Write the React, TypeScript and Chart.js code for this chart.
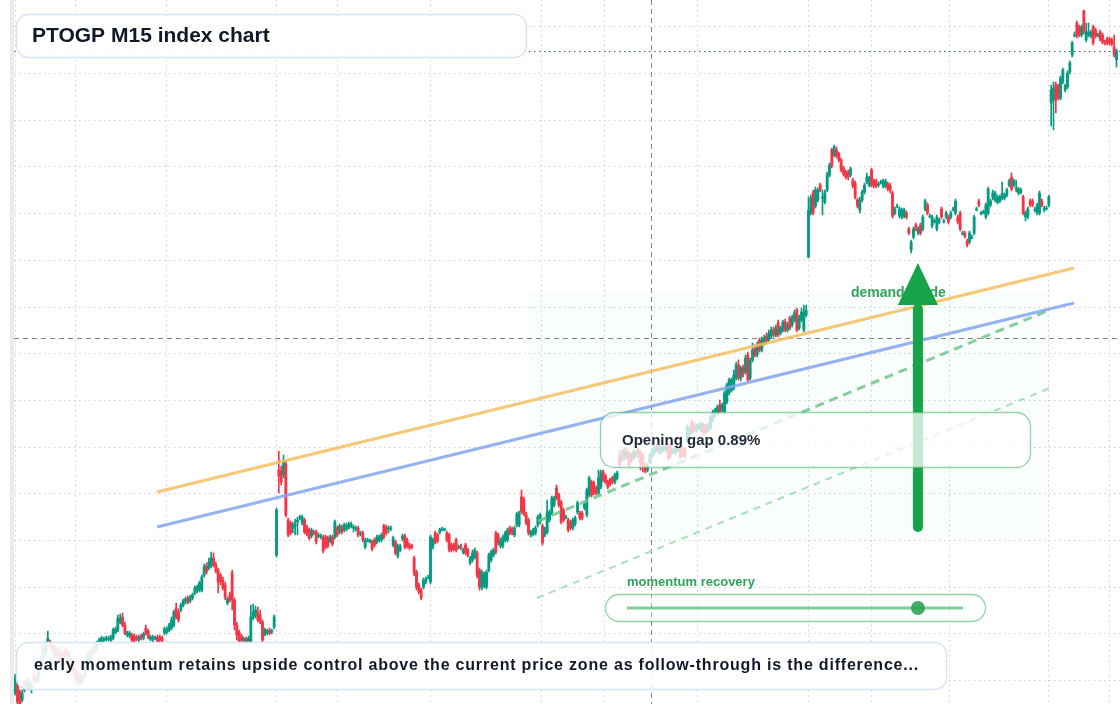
import React, { useEffect, useRef } from "react";
import { Chart, registerables } from "chart.js";

Chart.register(...registerables);

// ---- OHLC data (one value per 15-minute candle, index order) ----
const opens = [
  307,315,308,300,310,317,312,311,324,322,
  320,332,342,348,357,358,355,352,344,350,
  345,348,350,342,340,334,328,326,318,324,
  325,335,340,350,348,352,357,358,360,360,
  361,360,362,367,370,378,383,375,365,364,
  365,364,363,360,364,362,372,369,361,360,
  362,363,363,362,367,368,370,372,375,392,
  388,390,395,398,402,399,402,407,409,410,
  410,425,434,432,434,442,435,430,425,420,
  415,397,405,427,400,375,368,364,359,361,
  358,358,382,384,387,385,378,366,367,370,
  368,373,445,530,529,525,536,480,477,472,
  474,478,482,477,480,473,470,464,468,468,
  464,463,463,463,462,459,463,463,472,468,
  473,470,471,473,474,472,471,472,466,467,
  453,459,458,458,460,458,460,460,474,473,
  471,471,455,458,444,450,461,464,460,455,
  454,442,428,415,410,413,418,422,418,453,
  467,465,468,470,470,467,465,455,455,460,
  452,454,448,455,450,437,440,443,447,430,
  412,415,413,430,440,445,467,465,454,454,
  460,460,472,471,465,475,475,503,500,486,
  480,465,466,467,475,478,474,465,468,480,
  487,495,512,505,498,490,482,480,478,472,
  476,488,487,487,492,485,505,518,517,512,
  507,513,528,524,518,520,522,518,522,543,
  540,550,543,547,545,542,545,550,548,544,
  535,530,538,544,548,550,553,548,551,550,
  555,553,548,547,550,553,552,550,560,565,
  578,575,570,572,570,575,574,570,572,580,
  585,587,595,590,588,598,607,610,612,622,
  635,622,632,628,645,622,640,652,645,660,
  650,657,664,660,664,670,665,677,667,670,
  678,670,682,675,680,690,672,680,670,685,
  743,787,807,794,800,815,802,798,810,825,
  850,845,850,846,840,832,828,828,825,820,
  817,800,790,800,808,818,815,830,819,819,
  815,817,814,814,816,815,807,787,793,784,
  783,784,787,771,750,763,775,767,775,771,
  791,795,783,774,778,771,778,791,778,783,
  783,783,790,787,783,787,766,767,759,758,
  762,767,790,799,786,787,783,787,795,802,
  800,798,799,802,802,805,815,823,815,811,
  807,808,803,783,783,799,799,790,787,787,
  799,790,791,795,897,900,915,914,902,918,
  910,913,928,945,964,977,973,965,989,960,
  965,964,973,970,964,968,965,958,961,961,
  960,953,940,
];

const highs = [
  326,317,310,310,320,321,322,318,328,326,
  332,344,355,358,369,360,357,355,353,352,
  348,351,352,349,343,337,331,328,327,326,
  335,347,350,353,357,359,362,364,363,364,
  364,365,372,373,385,386,387,378,369,369,
  367,366,365,365,366,368,375,371,365,365,
  364,365,365,364,373,373,377,383,390,397,
  391,397,401,403,404,405,407,414,415,419,
  425,436,437,442,448,447,438,432,427,423,
  418,403,408,430,402,378,370,366,363,363,
  364,395,396,394,393,390,380,372,371,372,
  371,385,492,549,534,545,539,482,479,478,
  481,483,485,485,482,475,472,472,470,470,
  467,466,465,465,464,465,465,480,474,476,
  475,477,477,478,478,475,474,474,469,469,
  462,462,461,460,462,465,465,467,476,475,
  474,474,464,460,456,456,466,466,462,457,
  456,444,430,417,412,422,423,425,465,462,
  469,467,472,473,472,469,467,457,457,462,
  455,456,452,457,452,444,450,452,449,432,
  430,428,430,447,450,452,469,467,462,465,
  469,472,474,473,474,488,489,510,503,488,
  482,470,472,474,485,487,476,473,500,490,
  504,504,515,507,500,492,485,482,480,482,
  484,499,489,489,498,512,524,520,519,514,
  530,530,530,526,520,522,524,527,529,550,
  550,552,552,549,547,550,550,552,550,546,
  537,536,547,552,554,555,555,554,555,555,
  557,555,552,553,554,555,554,552,575,574,
  580,577,576,577,578,577,576,577,585,590,
  592,595,600,597,609,617,622,622,630,638,
  640,634,635,645,648,642,657,655,658,662,
  663,665,667,670,673,673,675,680,674,680,
  681,678,684,685,690,692,685,692,695,695,
  803,805,810,813,812,817,810,810,828,837,
  852,855,853,848,842,834,830,830,833,822,
  819,802,803,810,817,827,824,832,821,821,
  818,820,821,821,818,817,809,793,796,793,
  792,792,789,773,760,773,777,773,777,785,
  801,797,786,785,781,785,782,793,781,789,
  785,789,793,801,785,789,769,769,761,769,
  765,785,793,801,789,790,797,813,801,810,
  809,805,805,818,807,812,821,827,821,820,
  813,812,805,789,793,801,801,793,797,809,
  801,794,794,805,915,918,918,916,924,932,
  916,929,939,959,968,979,975,975,990,977,
  977,970,975,972,967,970,967,960,963,963,
  962,965,951,
];

const lows = [
  305,294,292,298,308,310,310,307,317,317,
  318,330,340,345,355,352,348,342,341,339,
  337,341,340,339,330,325,319,314,315,317,
  322,332,337,345,346,350,355,356,358,359,
  359,358,360,366,368,376,373,365,363,362,
  358,356,359,358,360,360,365,361,359,358,
  360,356,358,357,365,366,368,370,373,381,
  378,388,393,396,396,397,400,405,407,408,
  408,423,426,430,432,433,427,407,415,410,
  400,395,398,390,370,360,355,357,357,355,
  356,356,380,382,378,376,358,364,365,365,
  366,371,443,507,515,522,483,463,465,467,
  465,465,480,475,466,464,460,462,465,456,
  462,461,447,451,452,457,454,461,463,466,
  466,468,469,471,472,468,469,463,464,458,
  451,458,457,449,453,456,458,458,461,465,
  467,469,453,445,442,448,459,451,452,450,
  451,424,410,406,400,411,416,421,416,451,
  456,457,466,469,469,458,448,448,449,448,
  451,450,446,445,443,435,438,441,422,410,
  410,412,411,428,438,443,446,455,452,452,
  458,458,465,465,463,473,473,486,484,475,
  465,463,464,465,473,476,455,463,466,478,
  485,493,500,493,476,478,481,468,470,470,
  474,486,480,480,490,483,503,503,505,505,
  505,511,518,516,511,514,516,516,520,533,
  538,540,541,533,537,540,543,542,530,528,
  527,528,536,542,546,548,546,546,549,548,
  540,543,546,545,548,541,543,542,558,563,
  566,568,568,570,568,565,566,568,570,578,
  583,585,586,588,586,596,605,608,610,620,
  620,619,623,626,618,620,638,643,643,648,
  648,655,656,658,662,663,663,663,665,668,
  668,668,670,673,678,668,670,678,668,683,
  742,785,785,792,798,808,785,796,808,823,
  832,843,842,838,828,824,821,820,823,812,
  801,792,787,798,806,816,813,813,812,812,
  813,816,812,812,809,807,782,785,792,782,
  781,782,781,765,747,761,769,765,765,769,
  789,785,782,772,777,769,776,781,777,781,
  776,781,789,785,776,769,765,762,753,756,
  761,765,789,793,785,786,781,785,793,800,
  798,796,797,800,800,803,813,809,813,808,
  805,806,785,779,781,793,793,788,785,785,
  793,788,790,793,874,870,887,900,900,916,
  908,911,926,943,963,962,963,963,966,958,
  963,962,955,962,963,959,956,955,955,955,
  954,943,933,
];

const closes = [
  323,298,296,307,317,312,318,314,320,320,
  328,340,352,355,362,355,350,345,350,342,
  340,344,343,346,334,328,322,317,324,320,
  332,344,347,347,354,356,360,362,361,362,
  362,363,370,371,382,381,375,367,367,367,
  360,358,361,363,362,366,367,363,363,363,
  362,358,360,359,371,371,375,380,388,383,
  380,395,399,401,398,403,405,412,413,417,
  423,433,428,438,442,435,429,418,418,412,
  403,401,400,400,375,365,358,360,361,357,
  362,383,388,390,380,378,360,370,369,367,
  369,383,490,524,518,538,485,465,467,475,
  476,480,483,483,468,466,462,470,467,458,
  465,464,449,453,454,463,456,478,465,474,
  468,475,475,476,476,473,472,465,467,460,
  460,460,460,451,455,463,463,465,463,467,
  472,472,462,447,454,454,464,453,454,452,
  453,427,413,408,402,420,421,423,463,460,
  458,459,470,471,471,460,450,450,451,450,
  453,452,450,447,445,442,447,450,425,413,
  428,425,428,445,448,450,448,457,460,463,
  467,470,467,467,472,486,487,488,486,477,
  467,468,470,472,483,485,457,471,488,488,
  502,502,502,495,478,480,483,470,472,480,
  482,497,482,482,496,510,522,505,507,507,
  522,528,520,518,513,516,518,525,527,535,
  545,543,548,535,539,548,548,544,537,535,
  529,534,545,550,552,553,548,552,553,553,
  542,545,550,551,552,543,545,544,573,572,
  568,570,574,575,576,567,568,575,583,588,
  590,593,588,595,607,615,620,620,625,635,
  622,632,626,642,620,640,650,645,655,650,
  660,662,658,667,670,665,672,665,672,678,
  670,675,672,682,687,670,682,688,688,690,
  790,802,787,810,810,810,803,807,825,835,
  834,853,844,840,830,826,823,823,831,814,
  803,794,800,808,815,823,822,815,814,814,
  816,818,819,819,811,810,784,791,794,791,
  790,790,783,767,758,771,771,771,767,783,
  799,787,784,783,779,783,780,783,779,787,
  778,787,791,799,778,771,767,764,755,767,
  763,783,791,795,787,788,795,811,799,807,
  807,803,803,807,805,810,819,811,819,812,
  811,810,787,787,791,795,795,791,795,807,
  795,791,792,803,910,912,900,902,922,930,
  914,927,937,957,965,965,965,973,968,968,
  968,968,957,964,965,961,958,957,957,957,
  956,945,949,
];

// ---- axis tick positions (grid only, labels hidden) ----
const xGridTicks = [0, 26, 65, 112, 138, 178, 225.5, 252.5, 292.5, 340, 367, 400.5, 443, 469];
const yGridTicks = [973, 926.33, 879.67, 833, 786.33, 739.67, 693, 646.33, 599.67, 553, 506.33, 459.67, 413, 366.33, 319.67];

const X_MIN = -0.5;
const X_MAX = 473.5;
const Y_MIN = 296;
const Y_MAX = 1000;

// ---- annotation values (data units) ----
const resistanceLine = [{ x: 60.8, y: 508 }, { x: 453.8, y: 732 }];
const trendLine = [{ x: 60.8, y: 473 }, { x: 453.8, y: 697 }];
const momentumLine = [{ x: 224.1, y: 479 }, { x: 442.2, y: 689 }];
const supportLine = [{ x: 223.6, y: 402 }, { x: 443.5, y: 612 }];
const zoneX = [219.4, 443.5];
const zoneY = [460, 708];
const crossX = 272.5;
const crossY = 662;
const arrowX = 386.9;
const arrowFrom = 473;
const arrowHeadBase = 695;
const arrowTip = 737;
const momentumValue = 0.866;

const TITLE = "PTOGP M15 index chart";
const NOTE = "early momentum retains upside control above the current price zone as follow-through is the difference...";
const GAP_LABEL = "Opening gap 0.89%";
const MOMENTUM_LABEL = "momentum recovery";
const DEMAND_LABEL = "demand guide";

const UP = "#089981";
const DOWN = "#f23645";
const FONT = '"Liberation Sans", Arial, Helvetica, sans-serif';

const overlayPlugin = {
  id: "overlay",
  beforeDraw(chart: any) {
    const ctx = chart.ctx;
    ctx.save();
    ctx.fillStyle = "#ffffff";
    ctx.fillRect(0, 0, chart.width, chart.height);
    ctx.fillStyle = "#ebebeb";
    ctx.fillRect(10, 0, 4, chart.height);
    ctx.restore();
  },
  beforeDatasetsDraw(chart: any) {
    const { ctx, chartArea } = chart;
    const xs = chart.scales.x;
    const ys = chart.scales.y;
    ctx.save();
    const zx0 = xs.getPixelForValue(zoneX[0]);
    const zx1 = xs.getPixelForValue(zoneX[1]);
    const zy0 = ys.getPixelForValue(zoneY[1]);
    const zy1 = ys.getPixelForValue(zoneY[0]);
    ctx.fillStyle = "rgba(34,197,94,0.028)";
    ctx.fillRect(zx0, zy0, zx1 - zx0, zy1 - zy0);

    ctx.strokeStyle = "rgba(110,110,110,0.85)";
    ctx.lineWidth = 1;
    ctx.setLineDash([5, 4]);
    const cx = Math.round(xs.getPixelForValue(crossX)) + 0.5;
    ctx.beginPath();
    ctx.moveTo(cx, chartArea.top);
    ctx.lineTo(cx, chartArea.bottom);
    ctx.stroke();
    const cy = Math.round(ys.getPixelForValue(crossY)) + 0.5;
    ctx.beginPath();
    ctx.moveTo(chartArea.left, cy);
    ctx.lineTo(chartArea.right, cy);
    ctx.stroke();

    const ly = Math.round(ys.getPixelForValue(closes[closes.length - 1])) + 0.5;
    ctx.strokeStyle = "#2f6f62";
    ctx.lineWidth = 1.2;
    ctx.setLineDash([1.5, 3.5]);
    ctx.beginPath();
    ctx.moveTo(chartArea.left, ly);
    ctx.lineTo(chartArea.right, ly);
    ctx.stroke();
    ctx.restore();
  },
  afterDatasetsDraw(chart: any) {
    const { ctx } = chart;
    const xs = chart.scales.x;
    const ys = chart.scales.y;
    ctx.save();
    ctx.textBaseline = "middle";
    ctx.textAlign = "left";

    // demand label (under the arrow)
    ctx.font = `bold 14px ${FONT}`;
    ctx.fillStyle = "#2ea55a";
    ctx.fillText(DEMAND_LABEL, 851, 293);

    // arrow
    const ax = xs.getPixelForValue(arrowX);
    const yFrom = ys.getPixelForValue(arrowFrom);
    const yBase = ys.getPixelForValue(arrowHeadBase);
    const yTip = ys.getPixelForValue(arrowTip);
    ctx.strokeStyle = "#16a34a";
    ctx.fillStyle = "#16a34a";
    ctx.lineWidth = 10;
    ctx.lineCap = "round";
    ctx.setLineDash([]);
    ctx.beginPath();
    ctx.moveTo(ax, yFrom);
    ctx.lineTo(ax, yBase + 4);
    ctx.stroke();
    ctx.lineCap = "butt";
    ctx.beginPath();
    ctx.moveTo(ax, yTip);
    ctx.lineTo(ax + 20, yBase);
    ctx.lineTo(ax - 20, yBase);
    ctx.closePath();
    ctx.fill();

    // opening gap box
    ctx.beginPath();
    ctx.roundRect(600.5, 412.5, 430, 55, 14);
    ctx.fillStyle = "rgba(255,255,255,0.75)";
    ctx.fill();
    ctx.strokeStyle = "rgba(60,175,100,0.55)";
    ctx.lineWidth = 1.3;
    ctx.stroke();
    ctx.font = `bold 15px ${FONT}`;
    ctx.fillStyle = "#1f2937";
    ctx.fillText(GAP_LABEL, 622, 441);

    // momentum slider
    ctx.font = `bold 13px ${FONT}`;
    ctx.fillStyle = "#2ea55a";
    ctx.fillText(MOMENTUM_LABEL, 627, 582);
    ctx.beginPath();
    ctx.roundRect(605.5, 594.5, 380, 27, 13.5);
    ctx.fillStyle = "rgba(255,255,255,0.35)";
    ctx.fill();
    ctx.strokeStyle = "rgba(60,175,100,0.55)";
    ctx.lineWidth = 1.3;
    ctx.stroke();
    const t0 = 627, t1 = 963;
    ctx.strokeStyle = "rgba(60,180,100,0.65)";
    ctx.lineWidth = 3;
    ctx.beginPath();
    ctx.moveTo(t0, 608);
    ctx.lineTo(t1, 608);
    ctx.stroke();
    ctx.fillStyle = "rgba(34,160,80,0.85)";
    ctx.beginPath();
    ctx.arc(t0 + (t1 - t0) * momentumValue, 608, 7, 0, Math.PI * 2);
    ctx.fill();

    // title box
    ctx.beginPath();
    ctx.roundRect(16.5, 14.5, 510, 43, 12);
    ctx.fillStyle = "rgba(255,255,255,0.92)";
    ctx.fill();
    ctx.strokeStyle = "#d6e4f6";
    ctx.lineWidth = 1.5;
    ctx.stroke();
    ctx.font = `bold 21px ${FONT}`;
    ctx.fillStyle = "#111827";
    ctx.fillText(TITLE, 32, 36);

    // bottom note box
    ctx.beginPath();
    ctx.roundRect(16.5, 642.5, 930, 47, 12);
    ctx.fillStyle = "rgba(255,255,255,0.88)";
    ctx.fill();
    ctx.strokeStyle = "#d6e4f6";
    ctx.lineWidth = 1.5;
    ctx.stroke();
    ctx.font = `bold 16px ${FONT}`;
    (ctx as any).letterSpacing = "0.8px";
    ctx.fillStyle = "#111827";
    ctx.fillText(NOTE, 34, 666);
    (ctx as any).letterSpacing = "0px";
    ctx.restore();
  },
};

export default function App() {
  const ref = useRef<HTMLCanvasElement | null>(null);

  useEffect(() => {
    if (!ref.current) return;
    const n = Math.min(opens.length, highs.length, lows.length, closes.length);
    const idx = Array.from({ length: n }, (_, i) => i);
    const colors = idx.map((i) => (closes[i] >= opens[i] ? UP : DOWN));
    const wickData = idx.map((i) => ({ x: i, y: [lows[i], highs[i]] }));
    const bodyData = idx.map((i) => ({ x: i, y: [opens[i], closes[i]] }));

    const lineDs = (data: any, color: string, width: number, dash: number[], order: number) => ({
      type: "line" as const,
      data,
      borderColor: color,
      borderWidth: width,
      borderDash: dash,
      pointRadius: 0,
      fill: false,
      tension: 0,
      order,
    });

    const chart = new Chart(ref.current, {
      type: "bar",
      data: {
        datasets: [
          {
            type: "bar",
            data: wickData as any,
            backgroundColor: colors,
            barThickness: 1,
            grouped: false,
            minBarLength: 1,
            order: 5,
          } as any,
          {
            type: "bar",
            data: bodyData as any,
            backgroundColor: colors,
            barThickness: 2.2,
            grouped: false,
            minBarLength: 1,
            order: 4,
          } as any,
          lineDs(supportLine, "rgba(140,214,165,0.75)", 2, [7, 6], 3) as any,
          lineDs(momentumLine, "rgba(110,200,140,0.85)", 3, [9, 6], 3) as any,
          lineDs(trendLine, "rgba(130,165,240,0.85)", 3, [], 2) as any,
          lineDs(resistanceLine, "rgba(245,190,95,0.85)", 3, [], 2) as any,
        ],
      },
      options: {
        responsive: false,
        animation: false,
        events: [],
        layout: { padding: { left: 14, right: 0, top: 0, bottom: 0 } },
        plugins: {
          legend: { display: false },
          tooltip: { enabled: false },
          title: { display: false },
        },
        scales: {
          x: {
            type: "linear",
            min: X_MIN,
            max: X_MAX,
            offset: false,
            grid: { color: "#d0d0d0", lineWidth: 1, drawTicks: false, offset: false },
            border: { display: false, dash: [1.5, 3.5] },
            ticks: { display: false },
            afterBuildTicks: (scale: any) => {
              scale.ticks = xGridTicks.map((v) => ({ value: v }));
            },
          },
          y: {
            type: "linear",
            min: Y_MIN,
            max: Y_MAX,
            grid: { color: "#d0d0d0", lineWidth: 1, drawTicks: false },
            border: { display: false, dash: [1.5, 3.5] },
            ticks: { display: false },
            afterBuildTicks: (scale: any) => {
              scale.ticks = yGridTicks.map((v) => ({ value: v }));
            },
          },
        },
      } as any,
      plugins: [overlayPlugin],
    });
    return () => chart.destroy();
  }, []);

  return (
    <div style={{ position: "absolute", left: 0, top: 0, width: 1120, height: 704, background: "#fff" }}>
      <canvas ref={ref} width={1120} height={704} style={{ display: "block" }} />
    </div>
  );
}
